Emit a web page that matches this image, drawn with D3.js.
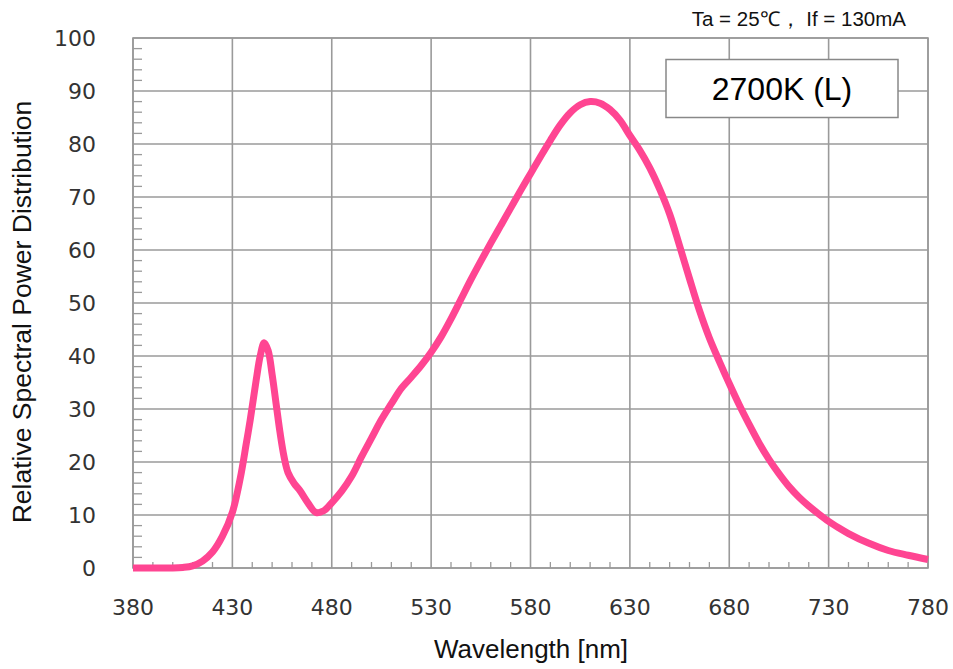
<!DOCTYPE html>
<html>
<head>
<meta charset="utf-8">
<script src="https://cdn.jsdelivr.net/npm/d3@7"></script>
<style>
  html, body { margin: 0; padding: 0; background: #fff; }
  svg { display: block; }
</style>
</head>
<body>
<svg id="chart" width="953" height="669"></svg>
<script>
// ---- data ----
const wavelength = [380, 390, 400, 405, 410, 415, 420, 425, 430, 434, 437, 439, 442, 444, 446, 448, 450, 452, 454, 456, 458, 461, 464, 468, 472, 476, 480, 485, 490, 495, 500, 505, 510, 515, 520, 525, 530, 535, 540, 545, 550, 555, 560, 565, 570, 575, 580, 585, 590, 595, 600, 605, 610, 615, 620, 625, 630, 635, 640, 645, 650, 655, 660, 665, 670, 675, 680, 685, 690, 695, 700, 705, 710, 715, 720, 725, 730, 735, 740, 750, 760, 770, 780];
const relPower   = [0, 0, 0, 0.1, 0.4, 1.3, 3, 6, 10.5, 17, 23.5, 28, 35.5, 40, 42.5, 41, 36.5, 31, 25.5, 21, 18, 16, 14.6, 12.3, 10.5, 10.8, 12.3, 14.5, 17.3, 21, 24.5, 28, 31, 33.9, 36.0, 38.2, 40.7, 43.6, 47.0, 50.7, 54.4, 57.9, 61.3, 64.6, 67.9, 71.2, 74.4, 77.6, 80.7, 83.6, 85.9, 87.4, 88, 87.7, 86.5, 84.5, 81.6, 78.8, 75.5, 71.5, 66.8, 60.8, 54.6, 48.6, 43.4, 39.0, 34.8, 30.8, 27.1, 23.6, 20.5, 17.8, 15.4, 13.4, 11.7, 10.2, 8.8, 7.6, 6.5, 4.7, 3.3, 2.4, 1.6];
const xTicks = [380, 430, 480, 530, 580, 630, 680, 730, 780];
const yTicks = [0, 10, 20, 30, 40, 50, 60, 70, 80, 90, 100];
const xMinor = d3.range(380, 781, 10);
const yMinor = d3.range(0, 101, 2);
const xTitle = "Wavelength [nm]";
const yTitle = "Relative Spectral Power Distribution";
const noteText = "Ta = 25\u2103\uFF0C If = 130mA";
const labelText = "2700K (L)";

// ---- layout ----
const svg = d3.select("#chart");
const L = 133, T = 38, R = 928, B = 568;
const x = d3.scaleLinear().domain([380, 780]).range([L, R]);
const y = d3.scaleLinear().domain([0, 100]).range([B, T]);
const gridColor = "#9a9a9a";

// grid
const g = svg.append("g");
g.selectAll("line.vg").data(xTicks).enter().append("line")
  .attr("x1", d => x(d)).attr("x2", d => x(d)).attr("y1", T).attr("y2", B)
  .attr("stroke", gridColor).attr("stroke-width", 1.6);
g.selectAll("line.hg").data(yTicks).enter().append("line")
  .attr("y1", d => y(d)).attr("y2", d => y(d)).attr("x1", L).attr("x2", R)
  .attr("stroke", gridColor).attr("stroke-width", 1.6);
// minor ticks
g.selectAll("line.xm").data(xMinor.filter(d => d % 50 !== 30)).enter().append("line")
  .attr("x1", d => x(d)).attr("x2", d => x(d)).attr("y1", B).attr("y2", B - 6)
  .attr("stroke", gridColor).attr("stroke-width", 1.3);
g.selectAll("line.ym").data(yMinor.filter(d => d % 10 !== 0)).enter().append("line")
  .attr("y1", d => y(d)).attr("y2", d => y(d)).attr("x1", L).attr("x2", L + 9)
  .attr("stroke", gridColor).attr("stroke-width", 1.3);
// frame
g.append("rect").attr("x", L).attr("y", T).attr("width", R - L).attr("height", B - T)
  .attr("fill", "none").attr("stroke", gridColor).attr("stroke-width", 1.6);

// tick labels
svg.append("g").selectAll("text").data(xTicks).enter().append("text")
  .attr("x", d => x(d)).attr("y", 615)
  .attr("text-anchor", "middle")
  .attr("font-family", "DejaVu Sans, Verdana, sans-serif").attr("font-size", 22)
  .attr("fill", "#333").text(d => d);
svg.append("g").selectAll("text").data(yTicks).enter().append("text")
  .attr("x", 96).attr("y", d => y(d) + 8)
  .attr("text-anchor", "end")
  .attr("font-family", "DejaVu Sans, Verdana, sans-serif").attr("font-size", 22)
  .attr("fill", "#333").text(d => d);

// axis titles
svg.append("text").attr("x", 531).attr("y", 658)
  .attr("text-anchor", "middle").attr("font-family", "Liberation Sans, Arial, sans-serif")
  .attr("font-size", 26).attr("fill", "#111").text(xTitle);
svg.append("text").attr("transform", "translate(31,312) rotate(-90)")
  .attr("text-anchor", "middle").attr("font-family", "Liberation Sans, Arial, sans-serif")
  .attr("font-size", 26.5).attr("fill", "#111").text(yTitle);

// curve
const pts = wavelength.map((w, i) => [w, relPower[i]]);
svg.append("path").datum(pts)
  .attr("d", d3.line().x(d => x(d[0])).y(d => y(Math.max(0, d[1]))).curve(d3.curveCatmullRom.alpha(0.5)))
  .attr("fill", "none").attr("stroke", "#ff4592").attr("stroke-width", 7)
  .attr("stroke-linejoin", "round").attr("stroke-linecap", "butt");

// label box
svg.append("rect").attr("x", 666).attr("y", 59.5).attr("width", 232).attr("height", 58)
  .attr("fill", "#fff").attr("stroke", "#888").attr("stroke-width", 1.5);
svg.append("text").attr("x", 782).attr("y", 100).attr("text-anchor", "middle")
  .attr("font-family", "Liberation Sans, Arial, sans-serif").attr("font-size", 32)
  .attr("fill", "#000").text(labelText);

// note
svg.append("text").attr("x", 906).attr("y", 26).attr("text-anchor", "end")
  .attr("font-family", "Liberation Sans, Arial, sans-serif").attr("font-size", 20.5)
  .attr("fill", "#111").attr("xml:space", "preserve").style("white-space", "pre").text(noteText);
</script>
</body>
</html>
